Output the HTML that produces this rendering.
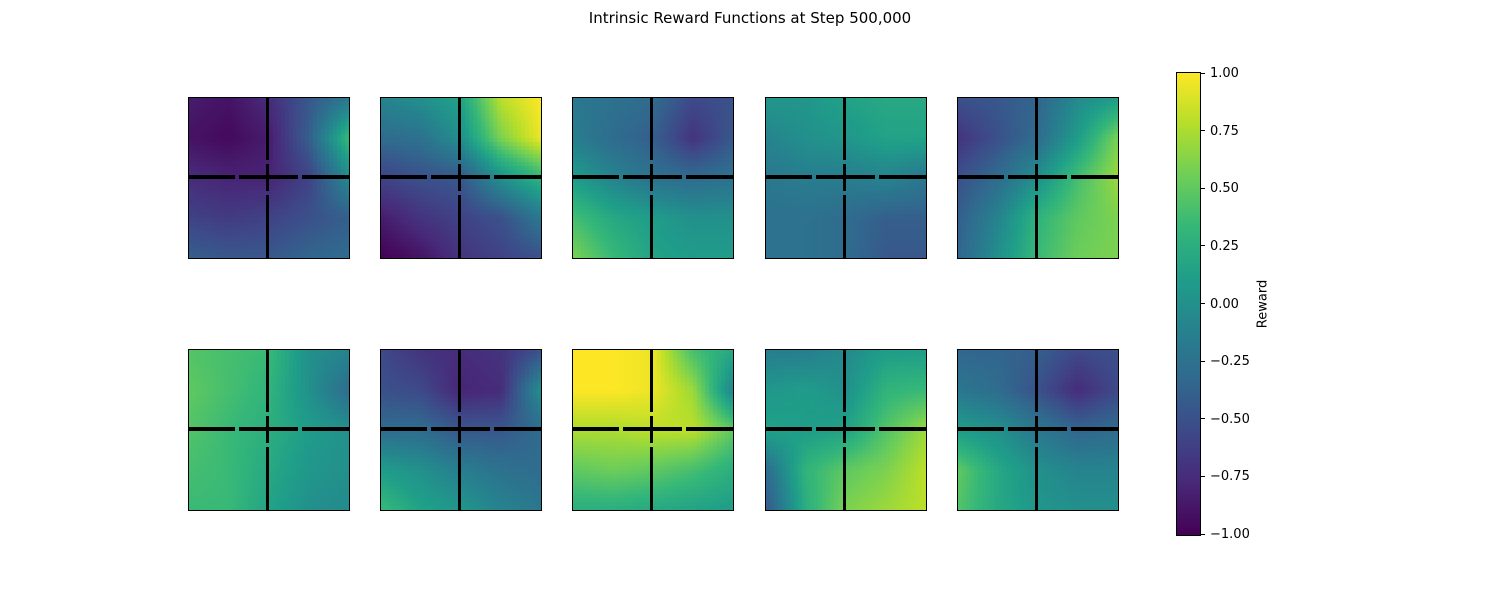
<!DOCTYPE html>
<html><head><meta charset="utf-8"><style>
body{margin:0;width:1500px;height:600px;background:#fff;position:relative;overflow:hidden;font-family:"DejaVu Sans","Liberation Sans",sans-serif;}
.panel{position:absolute;width:160px;height:160px;outline:1px solid #000;}
.panel canvas{position:absolute;left:0;top:0;}
.w{position:absolute;background:#000;}
#title{position:absolute;top:9px;left:0;width:1500px;text-align:center;font-size:15px;color:#000;}
.tick{position:absolute;left:1200px;width:5px;height:1px;background:#000;}
.tl{position:absolute;left:1210px;font-size:13px;line-height:14px;margin-top:-6px;}
</style></head><body>
<div id="title">Intrinsic Reward Functions at Step 500,000</div>
<canvas id="cbar" width="23" height="462" style="position:absolute;left:1177px;top:73px;outline:1px solid #000"></canvas>
<div style="position:absolute;left:1263px;top:304px;transform:translate(-50%,-50%) rotate(-90deg);font-size:13px">Reward</div>
<script>
const panelValues=[
[[-0.85,-0.9,-0.75,-0.45,-0.2],[-0.9,-0.95,-0.85,-0.4,0.35],[-0.75,-0.8,-0.8,-0.6,-0.05],[-0.6,-0.65,-0.6,-0.5,-0.4],[-0.4,-0.45,-0.45,-0.35,-0.3]],
[[-0.1,0,0.15,0.8,1.0],[-0.3,-0.25,0,0.6,0.95],[-0.6,-0.5,-0.45,0,0.3],[-0.85,-0.7,-0.6,-0.5,-0.2],[-1.0,-0.9,-0.7,-0.6,-0.5]],
[[-0.2,-0.25,-0.3,-0.55,-0.5],[-0.15,-0.3,-0.4,-0.7,-0.45],[0.1,-0.1,-0.25,-0.3,-0.25],[0.4,0.2,0.1,0.0,0.0],[0.6,0.35,0.15,0.1,0.1]],
[[0.05,0.05,0.15,0.2,0.2],[-0.1,0,0.05,0.15,0.15],[-0.2,-0.15,-0.15,-0.1,-0.2],[-0.25,-0.25,-0.3,-0.4,-0.4],[-0.25,-0.25,-0.3,-0.45,-0.45]],
[[-0.5,-0.45,-0.35,-0.05,0.1],[-0.7,-0.5,-0.3,0.1,0.6],[-0.5,-0.3,0.0,0.4,0.7],[-0.4,-0.1,0.3,0.5,0.6],[-0.35,0,0.35,0.55,0.6]],
[[0.45,0.4,0.35,0.0,-0.1],[0.5,0.4,0.3,0.0,-0.3],[0.45,0.35,0.25,0.1,0.0],[0.4,0.35,0.2,0.05,0.0],[0.35,0.35,0.15,0.0,-0.05]],
[[-0.55,-0.7,-0.75,-0.7,-0.5],[-0.5,-0.55,-0.8,-0.75,0.0],[-0.3,-0.3,-0.45,-0.45,-0.3],[0.1,0.0,-0.15,-0.25,-0.3],[0.35,0.15,0.05,-0.1,-0.2]],
[[1.0,1.0,0.95,0.4,0.2],[1.0,1.0,0.95,0.7,-0.1],[0.75,0.75,0.8,0.8,0.5],[0.5,0.55,0.5,0.4,0.25],[0.25,0.25,0.2,0.15,0.1]],
[[-0.15,-0.15,-0.05,0.1,0.1],[0.05,0.1,0.0,0.3,0.35],[0.15,0.1,0.15,0.45,0.7],[-0.3,0.3,0.5,0.6,0.8],[-0.45,0.25,0.6,0.7,0.8]],
[[-0.35,-0.35,-0.4,-0.55,-0.5],[-0.2,-0.3,-0.5,-0.75,-0.55],[0.1,0,-0.2,-0.35,-0.3],[0.5,0.2,0,-0.1,-0.1],[0.45,0.2,0.05,0,0]]
];
const colorbarTicks=[1.00,0.75,0.50,0.25,0.00,-0.25,-0.50,-0.75,-1.00];
const vmin=-1,vmax=1;
const stops=[[68,1,84],[72,40,120],[62,73,137],[49,104,142],[38,130,142],[31,158,137],[53,183,121],[110,206,88],[181,222,43],[253,231,37]];
function cmap(v){let t=(v-vmin)/(vmax-vmin);t=Math.max(0,Math.min(1,t))*(stops.length-1);const i=Math.min(stops.length-2,Math.floor(t)),f=t-i;const a=stops[i],b=stops[i+1];return `rgb(${a.map((c,k)=>Math.round(c+(b[k]-c)*f)).join(',')})`;}
function sample(g,u,v){const n=g.length-1;const x=u*n,y=v*n;const i=Math.min(n-1,Math.floor(x)),j=Math.min(n-1,Math.floor(y));const fx=x-i,fy=y-j;
return g[j][i]*(1-fx)*(1-fy)+g[j][i+1]*fx*(1-fy)+g[j+1][i]*(1-fx)*fy+g[j+1][i+1]*fx*fy;}
const xs=[189,381,573,766,958],ys=[98,350];
panelValues.forEach((g,p)=>{
 const d=document.createElement('div');d.className='panel';
 d.style.left=xs[p%5]+'px';d.style.top=ys[Math.floor(p/5)]+'px';
 
 
 const c=document.createElement('canvas');c.width=160;c.height=160;
 
 
 const ctx=c.getContext('2d');const N=40;
 for(let j=0;j<N;j++)for(let i=0;i<N;i++){ctx.fillStyle=cmap(sample(g,(i+0.5)/N,(j+0.5)/N));ctx.fillRect(i*4,j*4,4,4);}
 d.appendChild(c);
 const walls=[[0,77,46,4],[50,77,59,4],[113,77,47,4],[77,0,3,62],[77,66,3,27],[77,97,3,63]];
 walls.forEach(w=>{const e=document.createElement('div');e.className='w';e.style.left=w[0]+'px';e.style.top=w[1]+'px';e.style.width=w[2]+'px';e.style.height=w[3]+'px';
 
 
 d.appendChild(e);});
 document.body.appendChild(d);
});
const cb=document.getElementById('cbar').getContext('2d');
for(let y=0;y<462;y++){cb.fillStyle=cmap(vmax-(y+0.5)/462*(vmax-vmin));cb.fillRect(0,y,23,1);}
colorbarTicks.forEach(t=>{const y=73+(vmax-t)/(vmax-vmin)*461;
 const k=document.createElement('div');k.className='tick';k.style.top=(y-0.5)+'px';
 
 
 document.body.appendChild(k);
 const l=document.createElement('div');l.className='tl';l.style.top=y+'px';l.textContent=(t<0?'\u2212':'')+Math.abs(t).toFixed(2);
 
 
 document.body.appendChild(l);});
</script>
</body></html>
